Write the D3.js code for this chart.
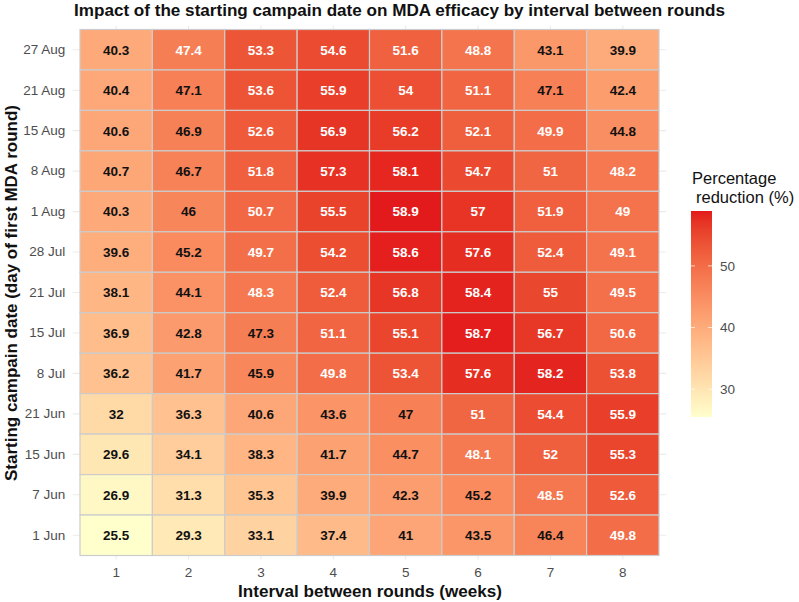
<!DOCTYPE html>
<html>
<head>
<meta charset="utf-8">
<script src="https://cdn.jsdelivr.net/npm/d3@7"></script>
<style>
  body { margin: 0; background: #fff; }
  text { font-family: "Liberation Sans", Arial, sans-serif; }
</style>
</head>
<body>
<div id="container"></div>
<script>
// start dates, top row first
const startDates = ["27 Aug", "21 Aug", "15 Aug", "8 Aug", "1 Aug", "28 Jul", "21 Jul",
    "15 Jul", "8 Jul", "21 Jun", "15 Jun", "7 Jun", "1 Jun"];
const intervals = [1, 2, 3, 4, 5, 6, 7, 8];

// reduction (%) per start date, one value per interval
const reduction = [
    [40.3, 47.4, 53.3, 54.6, 51.6, 48.8, 43.1, 39.9],
    [40.4, 47.1, 53.6, 55.9, 54, 51.1, 47.1, 42.4],
    [40.6, 46.9, 52.6, 56.9, 56.2, 52.1, 49.9, 44.8],
    [40.7, 46.7, 51.8, 57.3, 58.1, 54.7, 51, 48.2],
    [40.3, 46, 50.7, 55.5, 58.9, 57, 51.9, 49],
    [39.6, 45.2, 49.7, 54.2, 58.6, 57.6, 52.4, 49.1],
    [38.1, 44.1, 48.3, 52.4, 56.8, 58.4, 55, 49.5],
    [36.9, 42.8, 47.3, 51.1, 55.1, 58.7, 56.7, 50.6],
    [36.2, 41.7, 45.9, 49.8, 53.4, 57.6, 58.2, 53.8],
    [32, 36.3, 40.6, 43.6, 47, 51, 54.4, 55.9],
    [29.6, 34.1, 38.3, 41.7, 44.7, 48.1, 52, 55.3],
    [26.9, 31.3, 35.3, 39.9, 42.3, 45.2, 48.5, 52.6],
    [25.5, 29.3, 33.1, 37.4, 41, 43.5, 46.4, 49.8]
];
const legendTicks = [30, 40, 50];

const width = 799, height = 602;
const tileLeft = 80, tileRight = 659, tileTop = 29.5, tileBottom = 555.5;

let cells = [];
startDates.forEach((d, i) => {
    intervals.forEach((w, j) => {
        cells.push({date: d, week: w, value: reduction[i][j]});
    });
});

const allValues = cells.map(c => c.value);
const color = d3.scaleSequential(d3.interpolateLab("#ffffcc", "#e31a1c"))
    .domain(d3.extent(allValues));

const x = d3.scaleBand().domain(intervals).range([tileLeft, tileRight]);
const y = d3.scaleBand().domain(startDates).range([tileTop, tileBottom]);
// ggplot discrete expansion: 0.1 of a tile beyond the tiles
const padX = x.bandwidth() * 0.1, padY = y.bandwidth() * 0.1;

const svg = d3.select("#container").append("svg")
    .attr("width", width)
    .attr("height", height);

// grid lines (only visible in the panel margins)
svg.append("g").selectAll("line.v")
    .data(intervals)
    .join("line")
    .attr("x1", d => x(d) + x.bandwidth() / 2)
    .attr("x2", d => x(d) + x.bandwidth() / 2)
    .attr("y1", tileTop - padY)
    .attr("y2", tileBottom + padY)
    .attr("stroke", "#ebebeb")
    .attr("stroke-width", 1.1);

svg.append("g").selectAll("line.h")
    .data(startDates)
    .join("line")
    .attr("y1", d => y(d) + y.bandwidth() / 2)
    .attr("y2", d => y(d) + y.bandwidth() / 2)
    .attr("x1", tileLeft - padX)
    .attr("x2", tileRight + padX)
    .attr("stroke", "#ebebeb")
    .attr("stroke-width", 1.1);

// tiles
svg.append("g").selectAll("rect")
    .data(cells)
    .join("rect")
    .attr("x", d => x(d.week))
    .attr("y", d => y(d.date))
    .attr("width", x.bandwidth())
    .attr("height", y.bandwidth())
    .attr("fill", d => color(d.value))
    .attr("stroke", "#cccccc")
    .attr("stroke-width", 1.2);

svg.append("g").selectAll("text")
    .data(cells)
    .join("text")
    .attr("x", d => x(d.week) + x.bandwidth() / 2)
    .attr("y", d => y(d.date) + y.bandwidth() / 2)
    .attr("dy", "0.36em")
    .attr("text-anchor", "middle")
    .attr("font-size", 13.5)
    .attr("font-weight", "bold")
    .attr("fill", d => d.value > 47.35 ? "#ffffff" : "#111111")
    .text(d => d.value);

// axes
const xAxis = svg.append("g")
    .attr("transform", `translate(0,${tileBottom + padY})`)
    .call(d3.axisBottom(x).tickSize(0).tickPadding(8));
const yAxis = svg.append("g")
    .attr("transform", `translate(${tileLeft - padX},0)`)
    .call(d3.axisLeft(y).tickSize(0).tickPadding(7.5));

[xAxis, yAxis].forEach(a => {
    a.select(".domain").remove();
    a.selectAll("text")
        .attr("font-family", "Liberation Sans, Arial, sans-serif")
        .attr("font-size", 13.5)
        .attr("fill", "#4d4d4d");
});

// titles
svg.append("text")
    .attr("x", 399.5)
    .attr("y", 16)
    .attr("text-anchor", "middle")
    .attr("font-size", 16)
    .attr("font-weight", "bold")
    .attr("fill", "#111")
    .attr("textLength", 651)
    .attr("lengthAdjust", "spacingAndGlyphs")
    .text("Impact of the starting campain date on MDA efficacy by interval between rounds");

svg.append("text")
    .attr("x", 370)
    .attr("y", 596.5)
    .attr("text-anchor", "middle")
    .attr("font-size", 16.5)
    .attr("font-weight", "bold")
    .attr("fill", "#111")
    .attr("textLength", 264)
    .attr("lengthAdjust", "spacingAndGlyphs")
    .text("Interval between rounds (weeks)");

svg.append("text")
    .attr("transform", `translate(17,293) rotate(-90)`)
    .attr("text-anchor", "middle")
    .attr("font-size", 16.5)
    .attr("font-weight", "bold")
    .attr("fill", "#111")
    .attr("textLength", 376)
    .attr("lengthAdjust", "spacingAndGlyphs")
    .text("Starting campain date (day of first MDA round)");

// legend
const legTop = 211, legBottom = 417, legX = 691, legW = 21;
const legScale = d3.scaleLinear().domain(color.domain()).range([legBottom, legTop]);

const grad = svg.append("defs").append("linearGradient")
    .attr("id", "legendGrad")
    .attr("x1", 0).attr("y1", 1).attr("x2", 0).attr("y2", 0);
d3.range(0, 1.0001, 0.05).forEach(t => {
    grad.append("stop")
        .attr("offset", t)
        .attr("stop-color", color.interpolator()(t));
});

svg.append("rect")
    .attr("x", legX)
    .attr("y", legTop)
    .attr("width", legW)
    .attr("height", legBottom - legTop)
    .attr("fill", "url(#legendGrad)");

let legTickG = svg.append("g");
legendTicks.forEach(t => {
    legTickG.append("line")
        .attr("x1", legX).attr("x2", legX + 4)
        .attr("y1", legScale(t)).attr("y2", legScale(t))
        .attr("stroke", "#fff").attr("stroke-opacity", 0.7);
    legTickG.append("line")
        .attr("x1", legX + legW - 4).attr("x2", legX + legW)
        .attr("y1", legScale(t)).attr("y2", legScale(t))
        .attr("stroke", "#fff").attr("stroke-opacity", 0.7);
    legTickG.append("text")
        .attr("x", legX + legW + 8)
        .attr("y", legScale(t))
        .attr("dy", "0.36em")
        .attr("font-size", 13.5)
        .attr("fill", "#4d4d4d")
        .text(t);
});

svg.append("text")
    .attr("x", 692)
    .attr("y", 184)
    .attr("font-size", 16.5)
    .attr("fill", "#111")
    .text("Percentage");
svg.append("text")
    .attr("x", 696)
    .attr("y", 203)
    .attr("font-size", 16.5)
    .attr("fill", "#111")
    .text("reduction (%)");
</script>
</body>
</html>
